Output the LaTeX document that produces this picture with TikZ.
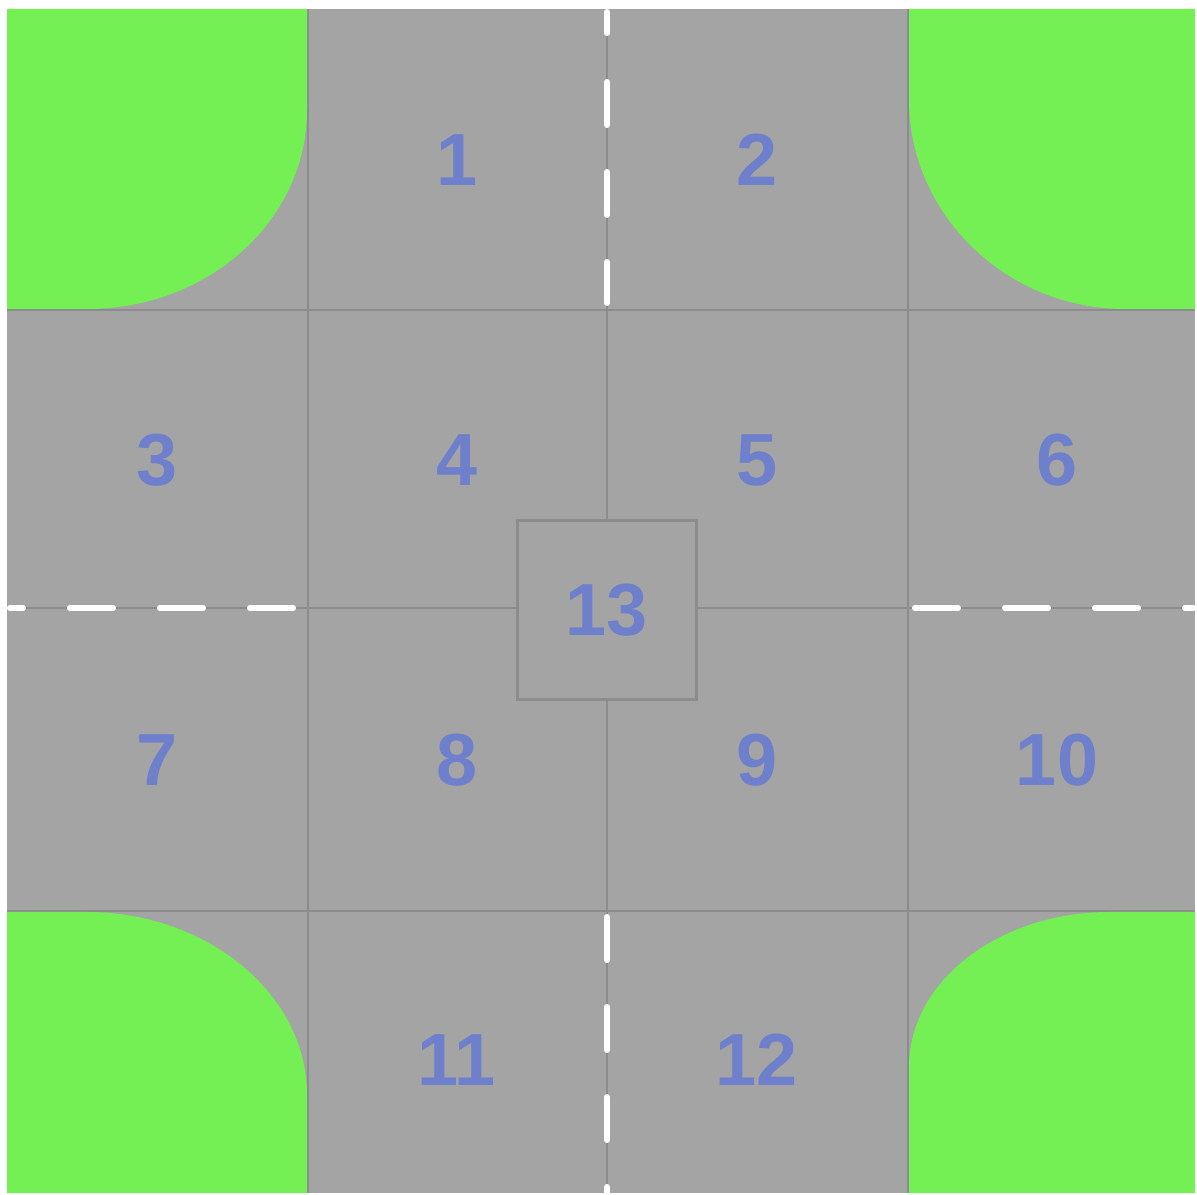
\documentclass[tikz,border=0pt]{standalone}
\usepackage{fontspec}
\setmainfont{Liberation Sans}
\definecolor{road}{RGB}{164,164,164}
\definecolor{grass}{RGB}{116,239,84}
\definecolor{gridc}{RGB}{140,140,140}
\definecolor{numc}{RGB}{110,128,204}
\tikzset{
  gridline/.style={draw=gridc, line width=0.6pt},
  dashline/.style={draw=white, line width=1.7pt, line cap=round},
  num/.style={text=numc, font=\fontsize{21}{21}\selectfont\bfseries, inner sep=0pt},
  centerbox/.style={draw=gridc, fill=road, line width=0.7pt, minimum width=51pt, minimum height=51pt, inner sep=0pt}
}
\begin{document}
\begin{tikzpicture}[x=0.01cm, y=-0.01cm]
\useasboundingbox (0,0) rectangle (1197,1195);
\fill[white] (0,0) rectangle (1197,1195);
\fill[road] (7,9) rectangle (1195,1193);
% grid
\foreach \g in {308,607,908} {\draw[gridline] (\g,9) -- (\g,1193);}
\foreach \g in {310,608,911} {\draw[gridline] (7,\g) -- (1195,\g);}
% grass corners
\fill[grass] (7,9) -- (307,9) -- (307,110) .. controls (307,220) and (209,309) .. (87,309) -- (7,309) -- cycle;
\fill[grass] (1195,9) -- (909,9) -- (909,100) .. controls (909,214) and (1006,309) .. (1125,309) -- (1195,309) -- cycle;
\fill[grass] (7,1193) -- (307,1193) -- (307,1095) .. controls (307,994) and (207,912) .. (87,912) -- (7,912) -- cycle;
\fill[grass] (1195,1193) -- (909,1193) -- (909,1067) .. controls (909,981) and (999,912) .. (1110,912) -- (1195,912) -- cycle;
% dashes
\foreach \a/\b in {12/33,82/125,172/215,262/303} {\draw[dashline] (607,\a) -- (607,\b);}
\foreach \a/\b in {917/960,1007/1050,1097/1140,1187/1192} {\draw[dashline] (607,\a) -- (607,\b);}
\foreach \a/\b in {10/23,70/113,160/203,250/293} {\draw[dashline] (\a,608) -- (\b,608);}
\foreach \a/\b in {915/958,1005/1048,1095/1138,1185/1193} {\draw[dashline] (\a,608) -- (\b,608);}
% center box
\node[centerbox] (n13) at (607,610) {};
\node[num] (t13) at (607,610) {13};
% numbers
\node[num] (n1) at (457,160) {1};
\node[num] (n2) at (757,160) {2};
\node[num] (n3) at (157,460) {3};
\node[num] (n4) at (457,460) {4};
\node[num] (n5) at (757,460) {5};
\node[num] (n6) at (1057,460) {6};
\node[num] (n7) at (157,760) {7};
\node[num] (n8) at (457,760) {8};
\node[num] (n9) at (757,760) {9};
\node[num] (n10) at (1057,760) {10};
\node[num] (n11) at (457,1060) {11};
\node[num] (n12) at (757,1060) {12};
\end{tikzpicture}
\end{document}
